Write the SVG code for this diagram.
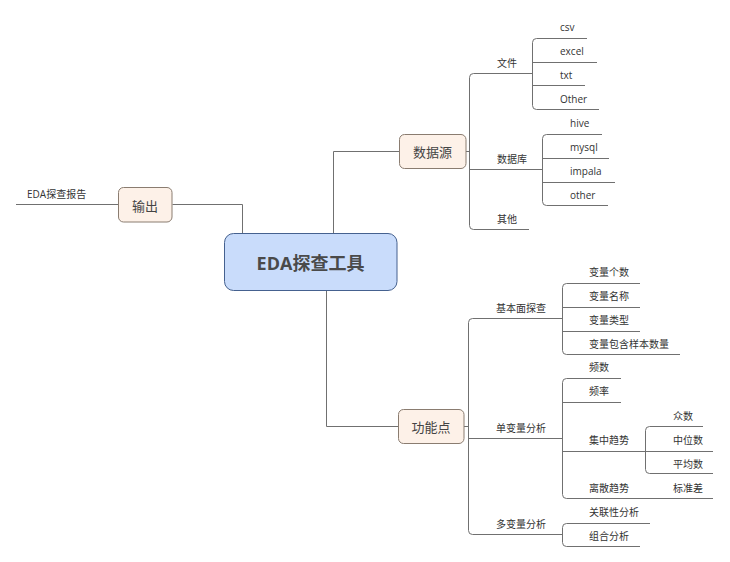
<svg xmlns="http://www.w3.org/2000/svg" width="730" height="562" viewBox="0 0 730 562">
<style>
.ln{fill:none;stroke:#707070;stroke-width:1}
.t{font-family:"Open Sans","Noto Sans CJK SC",sans-serif;font-size:10px;fill:#333;dominant-baseline:central}
.nt{font-family:"Noto Sans CJK SC",sans-serif;font-size:13px;fill:#444;text-anchor:middle;dominant-baseline:central}
.sub{fill:#fdf1e8;stroke:#8a7c70;stroke-width:1}
</style>
<rect width="730" height="562" fill="#fff"/>
<g id="connectors" class="ln">
<path d="M172.5,204.5 H242.5 V233"/>
<path d="M118,204.5 H16"/>
<path d="M333.5,233 V151.5 H399"/>
<path d="M326.5,291 V426.5 H398"/>
<path d="M466,151.5 H469.5"/>
<path d="M532,73.5 H473.5 Q469.5,73.5 469.5,77.5 V225.5 Q469.5,229.5 473.5,229.5 H529"/>
<path d="M469.5,169.5 H542"/>
<path d="M587,38.5 H536.5 Q532.5,38.5 532.5,42.5 V105.5 Q532.5,109.5 536.5,109.5 H599"/>
<path d="M532.5,62.5 H597 M532.5,85.5 H585"/>
<path d="M602,134.5 H546.5 Q542.5,134.5 542.5,138.5 V201.5 Q542.5,205.5 546.5,205.5 H608"/>
<path d="M542.5,158.5 H609 M542.5,182.5 H615"/>
<path d="M464,426.5 H468.5"/>
<path d="M562,318.5 H472.5 Q468.5,318.5 468.5,322.5 V530.5 Q468.5,534.5 472.5,534.5 H562"/>
<path d="M468.5,438.5 H562"/>
<path d="M640,283.5 H566.5 Q562.5,283.5 562.5,287.5 V350.5 Q562.5,354.5 566.5,354.5 H680"/>
<path d="M562.5,307.5 H640 M562.5,331.5 H640"/>
<path d="M621,378.5 H566.5 Q562.5,378.5 562.5,382.5 V494.5 Q562.5,498.5 566.5,498.5 H713"/>
<path d="M562.5,402.5 H621 M562.5,451.5 H713"/>
<path d="M703,426.5 H649.5 Q645.5,426.5 645.5,430.5 V469.5 Q645.5,473.5 649.5,473.5 H713"/>
<path d="M650,523.5 H566.5 Q562.5,523.5 562.5,527.5 V542.5 Q562.5,546.5 566.5,546.5 H640"/>
</g>
<g id="root">
<rect x="224.5" y="233.5" width="172.5" height="57" rx="9" fill="#c9dcfb" stroke="#45618f" stroke-width="1"/>
<text x="310.5" y="262.5" font-family="'Open Sans','Noto Sans CJK SC',sans-serif" font-size="18" font-weight="bold" fill="#4a4a4a" text-anchor="middle" dominant-baseline="central">EDA探查工具</text>
</g>
<g id="output">
<rect class="sub" x="118.5" y="187.5" width="53.5" height="34.5" rx="5"/>
<text class="nt" x="145" y="205">输出</text>
<text class="t" x="27" y="194">EDA探查报告</text>
</g>
<g id="datasource">
<rect class="sub" x="399.5" y="134.5" width="66.5" height="34" rx="5"/>
<text class="nt" x="432.5" y="151.5">数据源</text>
</g>
<g id="file"><text class="t" x="497" y="63">文件</text></g>
<g id="csv"><text class="t" x="560" y="27">csv</text></g>
<g id="excel"><text class="t" x="560" y="51">excel</text></g>
<g id="txt"><text class="t" x="560" y="75">txt</text></g>
<g id="Other"><text class="t" x="560" y="99">Other</text></g>
<g id="db"><text class="t" x="497" y="159">数据库</text></g>
<g id="hive"><text class="t" x="570" y="123">hive</text></g>
<g id="mysql"><text class="t" x="570" y="147">mysql</text></g>
<g id="impala"><text class="t" x="570" y="171">impala</text></g>
<g id="other"><text class="t" x="570" y="195">other</text></g>
<g id="misc"><text class="t" x="497" y="219">其他</text></g>
<g id="features">
<rect class="sub" x="398.5" y="409.5" width="65.5" height="34" rx="5"/>
<text class="nt" x="431" y="426.5">功能点</text>
</g>
<g id="basic"><text class="t" x="496" y="308">基本面探查</text></g>
<g id="b1"><text class="t" x="589" y="272">变量个数</text></g>
<g id="b2"><text class="t" x="589" y="296">变量名称</text></g>
<g id="b3"><text class="t" x="589" y="320">变量类型</text></g>
<g id="b4"><text class="t" x="589" y="344">变量包含样本数量</text></g>
<g id="uni"><text class="t" x="496" y="428">单变量分析</text></g>
<g id="u1"><text class="t" x="589" y="367">频数</text></g>
<g id="u2"><text class="t" x="589" y="391">频率</text></g>
<g id="u3"><text class="t" x="589" y="440">集中趋势</text></g>
<g id="u31"><text class="t" x="673" y="416">众数</text></g>
<g id="u32"><text class="t" x="673" y="440">中位数</text></g>
<g id="u33"><text class="t" x="673" y="464">平均数</text></g>
<g id="u4"><text class="t" x="589" y="488">离散趋势</text></g>
<g id="u41"><text class="t" x="673" y="488">标准差</text></g>
<g id="multi"><text class="t" x="496" y="524">多变量分析</text></g>
<g id="m1"><text class="t" x="589" y="512">关联性分析</text></g>
<g id="m2"><text class="t" x="589" y="536">组合分析</text></g>
</svg>
